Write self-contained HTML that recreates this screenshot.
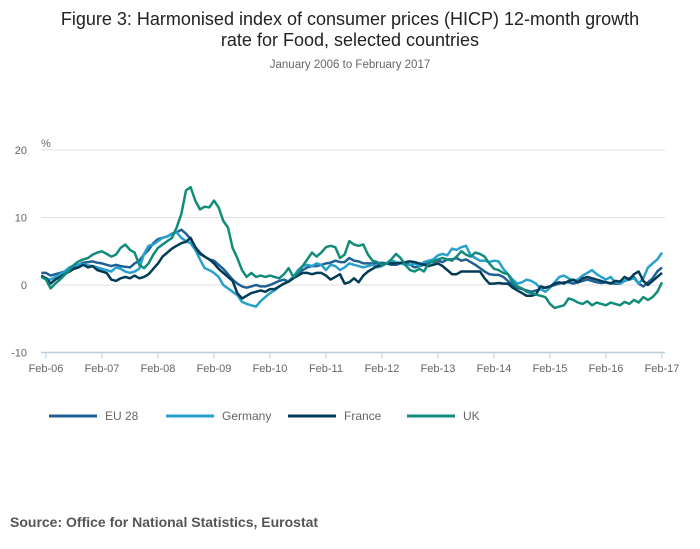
<!DOCTYPE html>
<html><head><meta charset="utf-8"><style>
body{margin:0;background:#fff;font-family:"Liberation Sans",sans-serif;}
#wrap{position:relative;width:700px;height:549px;overflow:hidden}
</style></head><body>
<div id="wrap">
<svg id="svg" width="700" height="549" xmlns="http://www.w3.org/2000/svg">
<text x="350" y="25" text-anchor="middle" font-size="18" fill="#222">Figure 3: Harmonised index of consumer prices (HICP) 12-month growth</text>
<text x="350" y="46" text-anchor="middle" font-size="18" fill="#222">rate for Food, selected countries</text>
<text x="350" y="68" text-anchor="middle" font-size="11.5" fill="#666">January 2006 to February 2017</text>
<text x="41" y="147" font-size="11" fill="#666">%</text>
<g id="grid"></g><g id="series"></g><g id="legend"></g>
<text x="10" y="527" font-size="14" font-weight="bold" fill="#555">Source: Office for National Statistics, Eurostat</text>
</svg>
</div>
<script>
const yTicks=[20,10,0,-10];
const xTickLabels=["Feb-06","Feb-07","Feb-08","Feb-09","Feb-10","Feb-11","Feb-12","Feb-13","Feb-14","Feb-15","Feb-16","Feb-17"];
const seriesNames=["EU 28","Germany","France","UK"];
const eu28=[1.8,1.8,1.4,1.6,1.8,2.0,2.3,2.6,3.0,3.3,3.4,3.5,
3.3,3.2,3.0,2.8,3.0,2.8,2.7,2.6,3.2,3.6,4.5,5.2,
6.2,6.8,7.0,7.2,7.6,7.8,8.2,7.6,6.8,5.6,4.8,4.2,
3.8,3.6,3.0,2.4,1.6,0.8,0.2,-0.2,-0.4,-0.2,0.0,-0.2,
-0.2,0.0,0.3,0.6,0.8,0.5,1.2,1.8,2.2,2.6,2.8,2.8,
3.0,3.2,3.3,3.6,3.4,3.4,4.0,3.6,3.5,3.2,3.2,3.2,
3.2,3.3,3.2,3.0,3.0,3.2,3.3,3.0,2.6,2.8,3.0,3.4,
3.4,3.6,3.4,3.8,3.8,4.0,3.6,3.8,3.4,3.0,2.5,2.0,
1.6,1.5,1.5,1.2,0.6,0.0,-0.4,-0.6,-0.8,-1.0,-0.8,-0.6,
-0.4,-0.2,0.0,0.2,0.4,0.4,0.2,0.4,0.6,0.8,0.6,0.4,
0.3,0.4,0.3,0.2,0.2,0.6,1.0,1.2,0.2,-0.2,0.4,1.0,
2.0,2.6];
const germany=[1.2,1.0,0.8,1.2,1.6,2.0,2.6,2.9,3.0,3.1,2.9,2.8,
2.6,2.4,2.2,2.0,2.6,2.4,2.0,1.8,2.0,2.4,4.6,5.8,
6.0,6.5,7.0,7.2,7.5,7.8,7.0,6.5,6.2,5.2,3.8,2.5,
2.2,1.8,1.2,0.0,-0.5,-1.0,-1.5,-2.5,-2.8,-3.0,-3.2,-2.4,
-1.8,-1.2,-0.8,-0.2,0.2,0.6,1.2,2.2,2.8,3.0,2.8,3.2,
3.0,2.2,3.0,2.8,2.2,2.6,3.2,3.0,2.8,2.6,2.8,3.0,
2.6,2.8,3.2,3.6,3.4,3.2,3.0,3.0,3.2,2.8,3.4,3.6,
3.8,4.4,4.6,4.4,5.4,5.2,5.6,5.8,4.4,4.0,3.6,3.6,
3.4,3.6,3.5,2.4,1.6,0.8,0.2,0.4,0.8,0.6,0.2,-0.6,
-1.0,-0.4,0.4,1.2,1.4,1.0,0.6,0.8,1.4,1.8,2.2,1.6,
1.2,0.8,1.2,0.4,0.2,0.6,0.8,1.0,0.2,1.0,2.6,3.2,
3.8,4.8];
const france=[1.4,1.0,0.2,0.8,1.2,1.6,2.0,2.4,2.6,3.0,2.6,2.8,
2.2,2.0,1.8,0.8,0.6,1.0,1.2,1.0,1.4,1.0,1.2,1.6,
2.4,3.2,4.2,4.8,5.4,5.8,6.2,6.4,7.0,5.6,4.6,4.2,
3.8,3.2,2.4,1.8,1.2,0.6,-1.2,-2.0,-1.6,-1.2,-1.0,-0.8,
-1.0,-0.6,-0.6,-0.2,0.2,0.5,1.0,1.4,1.8,1.8,1.6,1.8,
1.8,1.4,0.8,1.2,1.6,0.2,0.4,1.0,0.4,1.4,2.0,2.4,
2.8,3.0,3.2,3.2,3.2,3.3,3.4,3.5,3.4,3.2,3.0,2.8,
3.0,3.2,2.8,2.2,1.6,1.6,2.0,2.0,2.0,2.0,2.0,1.0,
0.2,0.2,0.3,0.2,0.2,-0.4,-0.8,-1.2,-1.6,-1.6,-1.4,-0.2,
-0.4,-0.2,0.2,0.4,0.2,0.6,0.8,0.4,1.0,1.2,1.0,0.8,
0.6,0.4,0.2,0.6,0.5,1.2,0.8,1.6,2.0,0.6,0.0,0.6,
1.2,1.8];
const uk=[1.2,0.8,-0.5,0.2,0.8,1.5,2.2,3.0,3.5,3.8,4.0,4.5,
4.8,5.0,4.6,4.2,4.5,5.5,6.0,5.2,4.8,3.0,2.5,3.2,
4.5,5.5,6.0,6.5,7.0,8.5,10.5,14.0,14.5,12.5,11.2,11.6,
11.5,12.5,11.5,9.5,8.5,5.5,4.0,2.2,1.2,1.8,1.2,1.4,
1.2,1.4,1.2,1.0,1.6,2.5,1.2,1.8,2.8,3.8,4.8,4.2,
4.8,5.6,5.8,5.6,4.0,4.5,6.5,6.0,5.8,6.0,4.5,3.6,
3.4,3.0,3.2,3.8,4.6,4.0,3.0,2.2,2.0,2.4,2.0,3.2,
3.5,3.8,4.0,3.8,3.6,4.2,5.0,4.5,4.2,4.8,4.6,4.2,
3.2,2.4,2.2,1.8,1.6,0.4,-0.2,-0.5,-1.0,-1.2,-1.4,-1.6,
-1.8,-2.8,-3.4,-3.2,-3.0,-2.0,-2.2,-2.6,-2.8,-2.4,-3.0,-2.6,
-2.8,-3.0,-2.6,-2.8,-3.0,-2.5,-2.8,-2.2,-2.6,-1.8,-2.2,-1.8,
-1.0,0.4];
const colors=["#206095","#27a0cc","#003c57","#118c7b"];
const NS="http://www.w3.org/2000/svg";
const x=i=>41.3+i*(616/132);
const y=v=>285-v*6.75;
const grid=document.getElementById('grid');
yTicks.forEach(t=>{
  if(t>-10){const l=document.createElementNS(NS,'line');
  l.setAttribute('x1',41);l.setAttribute('x2',665);l.setAttribute('y1',y(t));l.setAttribute('y2',y(t));
  l.setAttribute('stroke','#e0e0e0');l.setAttribute('stroke-width',1);
  
  
  grid.appendChild(l);}
  const tx=document.createElementNS(NS,'text');
  tx.setAttribute('x',27);tx.setAttribute('y',y(t)+4);tx.setAttribute('text-anchor','end');
  tx.setAttribute('font-size',11);tx.setAttribute('fill','#666');tx.textContent=t;
  
  
  grid.appendChild(tx);
});
const ax=document.createElementNS(NS,'line');
ax.setAttribute('x1',41);ax.setAttribute('x2',665);ax.setAttribute('y1',y(-10));ax.setAttribute('y2',y(-10));
ax.setAttribute('stroke','#bccde0');ax.setAttribute('stroke-width',1.5);


grid.appendChild(ax);
xTickLabels.forEach((lab,k)=>{
  const xi=x(1+12*k);
  const tk=document.createElementNS(NS,'line');
  tk.setAttribute('x1',xi);tk.setAttribute('x2',xi);tk.setAttribute('y1',y(-10));tk.setAttribute('y2',y(-10)+6);
  tk.setAttribute('stroke','#bccde0');
  
  
  grid.appendChild(tk);
  const tx=document.createElementNS(NS,'text');
  tx.setAttribute('x',xi);tx.setAttribute('y',372);tx.setAttribute('text-anchor','middle');
  tx.setAttribute('font-size',11);tx.setAttribute('fill','#666');tx.textContent=lab;
  
  
  grid.appendChild(tx);
});
const sg=document.getElementById('series');
[eu28,germany,france,uk].forEach((arr,s)=>{
  const p=document.createElementNS(NS,'path');
  p.setAttribute('d',arr.map((v,i)=>(i?'L':'M')+x(i).toFixed(1)+','+y(v).toFixed(1)).join(''));
  p.setAttribute('fill','none');p.setAttribute('stroke',colors[s]);p.setAttribute('stroke-width',2.5);
  p.setAttribute('stroke-linejoin','round');
  
  
  sg.appendChild(p);
});
const lg=document.getElementById('legend');
const lx=[49,166,288,407];
seriesNames.forEach((n,s)=>{
  const g=document.createElementNS(NS,'g');
  
  
  const l=document.createElementNS(NS,'line');
  l.setAttribute('x1',lx[s]);l.setAttribute('x2',lx[s]+48);l.setAttribute('y1',416);l.setAttribute('y2',416);
  l.setAttribute('stroke',colors[s]);l.setAttribute('stroke-width',3);
  g.appendChild(l);
  const t=document.createElementNS(NS,'text');
  t.setAttribute('x',lx[s]+56);t.setAttribute('y',420);t.setAttribute('font-size',12);t.setAttribute('fill','#666');
  t.textContent=n;g.appendChild(t);
  lg.appendChild(g);
});
</script>
</body></html>
